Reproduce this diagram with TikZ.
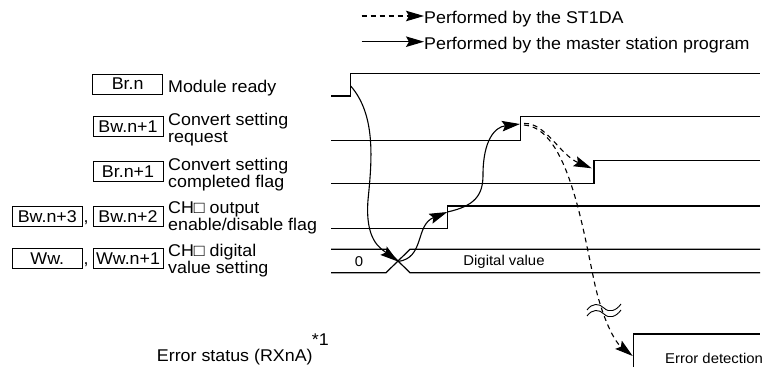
\documentclass[tikz,border=0pt]{standalone}
\usepackage{fontspec}
\setmainfont{Liberation Sans}[FakeStretch=1.05]
\usetikzlibrary{arrows.meta}
\newcommand\mylblfont{\fontsize{17}{16.8}\selectfont}
\newcommand\mysmallfont{\fontsize{14.2}{16}\selectfont}
\tikzset{
  sig/.style={line width=1.2pt, line join=miter},
  regbox/.style={draw, line width=0.9pt, minimum width=70pt, minimum height=20pt, inner sep=0pt, font=\mylblfont},
  lbl/.style={anchor=base west, inner sep=0pt, align=left, font=\mylblfont},
  smalltxt/.style={inner sep=0pt, font=\mysmallfont},
  flow/.style={line width=1.1pt, -{Stealth[length=18pt,width=10.5pt,inset=3pt]}},
  dflow/.style={flow, dash pattern=on 5pt off 4pt},
}
\begin{document}
\begin{tikzpicture}[x=1pt,y=-1pt]
\useasboundingbox (0,0) rectangle (766,367);

% legend
\coordinate (l1s) at (361.7,16);
\node[lbl] (l1t) at (424,23.3) {Performed by the ST1DA};
\draw[dflow] (l1s) -- (l1t.west |- l1s);
\coordinate (l2s) at (361.7,41.7);
\node[lbl] (l2t) at (424,49) {Performed by the master station program};
\draw[flow] (l2s) -- (l2t.west |- l2s);

% left labels (base anchor = last line of a multi-line node)
\node[regbox] (b1) at (127.7,84) {Br.n};
\node[lbl] (t1) at (168,92.3) {Module ready};
\node[regbox] (b2) at (128,126.5) {Bw.n+1};
\node[lbl] (t2) at (168,142.5) {Convert setting\\request};
\node[regbox] (b3) at (128,171.5) {Br.n+1};
\node[lbl] (t3) at (168,187.5) {Convert setting\\completed flag};
\node[regbox] (b4b) at (47.3,216.4) {Bw.n+3};
\node[lbl] (c4) at (83.5,222.5) {,};
\node[regbox] (b4) at (128,216.4) {Bw.n+2};
\node[lbl] (t4) at (168,230.1) {CH□ output\\enable/disable flag};
\node[regbox] (b5b) at (47.3,258.5) {Ww.};
\node[lbl] (c5) at (83.5,264.5) {,};
\node[regbox] (b5) at (128,258.5) {Ww.n+1};
\node[lbl] (t5) at (168,273.3) {CH□ digital\\value setting};
\node[lbl] (t6) at (156.7,361.7) {Error status (RXnA)};
\node[lbl] (t6n) at (311.7,345) {*1};

% waveforms
\draw[sig] (331,96) -- (350.7,96) -- (350.7,73.3) -- (760,73.3);
\draw[sig] (331,140.7) -- (520.7,140.7) -- (520.7,116.7) -- (760,116.7);
\draw[sig] (331,183.3) -- (594,183.3) -- (594,160.7) -- (760,160.7);
\draw[sig] (331,228.3) -- (447.3,228.3) -- (447.3,206) -- (760,206);
\draw[sig] (331,249.3) -- (386,249.3) -- (410,272.7) -- (760,272.7);
\draw[sig] (331,272.7) -- (386,272.7) -- (410,249.3) -- (760,249.3);
\draw[sig] (633.3,367) -- (633.3,334) -- (760,334);

\node[smalltxt] (zero) at (359,261.5) {0};
\node[smalltxt] (dv) at (504,261.5) {Digital value};
\node[smalltxt, anchor=base west] (ed) at (665,363.3) {Error detection};

% event points
\coordinate (mr) at (350.7,86);
\coordinate (cross) at (398,261.5);
\coordinate (oe) at (447.3,212);
\coordinate (cr) at (520,124);
\coordinate (crd) at (524,123.5);
\coordinate (crd2) at (524,125);
\coordinate (cf) at (591.7,168.3);
\coordinate (err) at (632.7,356);

% arrows
\draw[flow] (mr) .. controls (376,115) and (372,160) .. (368,200)
            .. controls (365,240) and (380,248) .. (cross);
\draw[flow] (cross) .. controls (425,258) and (415,225) .. (oe);
\draw[flow] (oe) .. controls (475,206) and (483,195) .. (483,175)
            .. controls (483,140) and (495,127) .. (cr);
\draw[dflow] (crd) .. controls (545,122) and (560,155) .. (cf);
\draw[dflow] (crd2) .. controls (568,128) and (583,230) .. (595,285)
            .. controls (603,320) and (615,342) .. (err);

% break mark
\foreach \dy in {0,6}{
  \draw[line width=0.9pt] (587,310+\dy) .. controls (592,303+\dy) and (599,303+\dy) .. (604,308+\dy)
     .. controls (609,313+\dy) and (616,311+\dy) .. (621,304+\dy);
}
\end{tikzpicture}
\end{document}
